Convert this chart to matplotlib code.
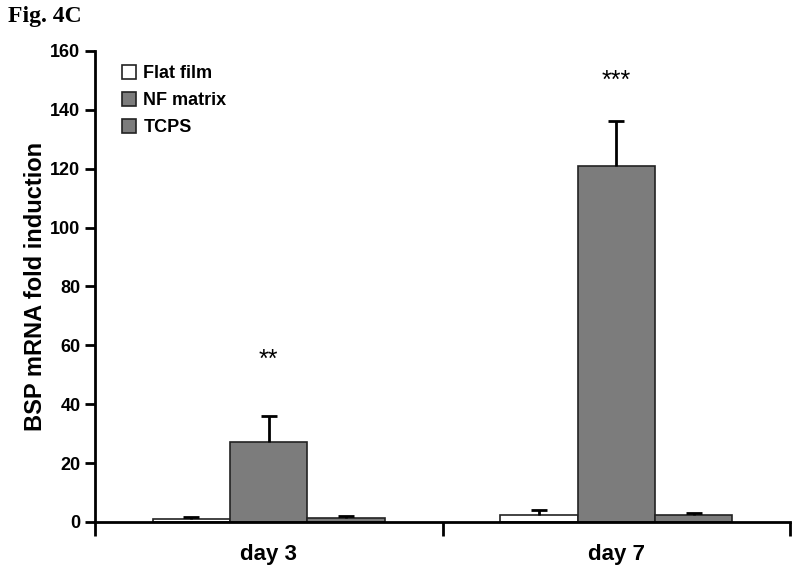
import matplotlib
matplotlib.use("Agg")
import matplotlib.pyplot as plt
import numpy as np

categories = ["day 3", "day 7"]
series = ["Flat film", "NF matrix", "TCPS"]
flat_film = [1.0, 2.3]
flat_film_err = [0.8, 1.9]
nf_matrix = [27.3, 121.0]
nf_matrix_err = [8.6, 15.2]
tcps = [1.3, 2.4]
tcps_err = [0.6, 0.5]
stars = ["**", "***"]
star_y = [55, 150]

plt.rcParams['font.family'] = ['Liberation Sans', 'DejaVu Sans']

fig = plt.figure(figsize=(8, 5.78), dpi=100)
ax = fig.add_axes([0.11875, 0.0969, 0.86875, 0.8149])

x = np.arange(len(categories))
w = 0.223
vals = [flat_film, nf_matrix, tcps]
errs = [flat_film_err, nf_matrix_err, tcps_err]
faces = ["white", "#7c7c7c", "#7c7c7c"]
for i, (v, e, fc, name) in enumerate(zip(vals, errs, faces, series)):
    bc = ax.bar(x + (i - 1) * w, v, w, color=fc, edgecolor="#222222", linewidth=1.2,
                label=name, yerr=[np.zeros(len(e)), e], capsize=6,
                error_kw=dict(elinewidth=2, capthick=2, ecolor="black"), zorder=2)
    caps = bc.errorbar.lines[1]
    if len(caps) == 2:
        caps[0].set_visible(False)

for xi, s, sy in zip(x, stars, star_y):
    ax.text(xi, sy, s, ha="center", va="center", fontsize=18)

ax.set_xlim(-0.5, 1.5)
ax.set_ylim(0, 160)
ax.set_yticks(np.arange(0, 161, 20))
ax.set_xticks([-0.5, 0.5, 1.5], minor=False)
ax.set_xticklabels(["", "", ""])
ax.set_xticks(x, minor=True)
ax.set_xticklabels(categories, minor=True)
ax.tick_params(axis="x", which="minor", length=0, pad=16, labelsize=16)
ax.tick_params(axis="x", which="major", length=10, width=2, direction="out")
ax.tick_params(axis="y", length=7, width=2, labelsize=13, direction="out")
for lab in ax.get_xticklabels(minor=True) + ax.get_yticklabels():
    lab.set_fontweight("bold")

ax.spines["top"].set_visible(False)
ax.spines["right"].set_visible(False)
ax.spines["left"].set_linewidth(2)
ax.spines["bottom"].set_linewidth(2)

ax.set_ylabel("BSP mRNA fold induction", fontsize=17, fontweight="bold", labelpad=2)

leg = ax.legend(loc="upper left", frameon=False, fontsize=13, handlelength=0.8,
                handleheight=0.8, handletextpad=0.4, labelspacing=0.55,
                bbox_to_anchor=(0.015, 1.005))
for t in leg.get_texts():
    t.set_fontweight("bold")

fig.text(0.01, 0.972, "Fig. 4C", family=["Liberation Serif", "DejaVu Serif"],
         fontsize=17, fontweight="bold", va="center", ha="left")

fig.savefig("out.png", dpi=100)
